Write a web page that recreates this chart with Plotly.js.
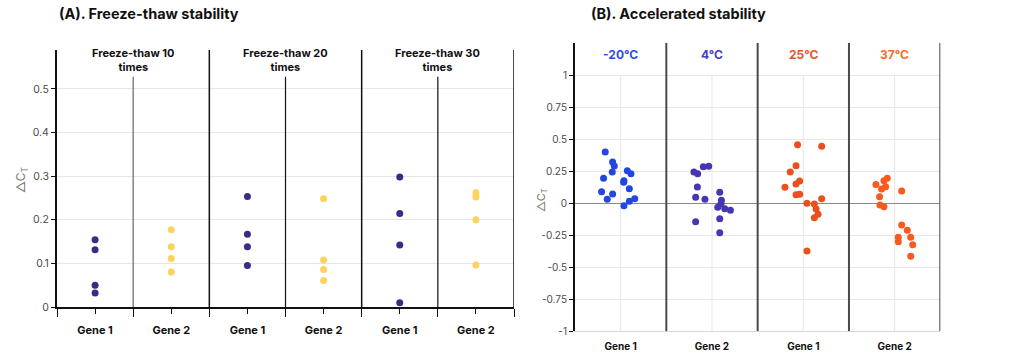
<!DOCTYPE html>
<html><head><meta charset="utf-8">
<script src="https://cdn.plot.ly/plotly-3.0.1.min.js"></script>
<style>html,body{margin:0;padding:0;background:#fff}#chart{width:1024px;height:361px}</style>
</head><body><div id="chart"></div>
<script>
// ---------- Panel A: Freeze-thaw stability ----------
const aGroups = ["Freeze-thaw 10<br>times", "Freeze-thaw 20<br>times", "Freeze-thaw 30<br>times"];
const aTickText = ["Gene 1", "Gene 2", "Gene 1", "Gene 2", "Gene 1", "Gene 2"];
const aGene1_ft10 = [0.154, 0.131, 0.050, 0.032];
const aGene2_ft10 = [0.177, 0.138, 0.111, 0.080];
const aGene1_ft20 = [0.253, 0.167, 0.138, 0.095];
const aGene2_ft20 = [0.248, 0.108, 0.086, 0.061];
const aGene1_ft30 = [0.298, 0.214, 0.142, 0.010];
const aGene2_ft30 = [0.262, 0.252, 0.200, 0.096];
const aYTicks = [0, 0.1, 0.2, 0.3, 0.4, 0.5];

// ---------- Panel B: Accelerated stability ----------
const bGroups = ["-20°C", "4°C", "25°C", "37°C"];
const bTickText = ["Gene 1", "Gene 2", "Gene 1", "Gene 2"];
const bM20 = [0.400, 0.323, 0.291, 0.245, 0.195, 0.091, 0.031, 0.073, 0.177, 0.164, 0.255, 0.231, 0.114, 0.016, 0.036, -0.019];
const bM20Jit = [-0.169, -0.088, -0.070, -0.092, -0.187, -0.209, -0.147, -0.088, 0.036, 0.033, 0.073, 0.113, 0.095, 0.095, 0.154, 0.036];
const b4 = [0.245, 0.231, 0.286, 0.289, 0.127, 0.047, 0.031, -0.144, 0.086, 0.023, -0.003, -0.031, -0.042, -0.055, -0.120, -0.230];
const b4Jit = [-0.198, -0.157, -0.095, -0.036, -0.160, -0.179, -0.077, -0.179, 0.085, 0.103, 0.099, 0.063, 0.140, 0.202, 0.085, 0.085];
const b25 = [0.458, 0.445, 0.294, 0.245, 0.174, 0.151, 0.125, 0.067, 0.070, 0.000, -0.005, 0.036, -0.045, -0.086, -0.112, -0.373];
const b25Jit = [-0.063, 0.201, -0.080, -0.143, -0.040, -0.080, -0.201, -0.080, -0.040, 0.040, 0.121, 0.201, 0.140, 0.161, 0.121, 0.040];
const b37 = [0.195, 0.177, 0.148, 0.130, 0.112, 0.096, 0.052, -0.013, -0.026, -0.170, -0.211, -0.266, -0.300, -0.266, -0.323, -0.414];
const b37Jit = [-0.081, -0.117, -0.205, -0.099, -0.143, 0.077, -0.165, -0.161, -0.117, 0.077, 0.139, 0.040, 0.040, 0.176, 0.198, 0.176];
const bYTicks = [-1, -0.75, -0.5, -0.25, 0, 0.25, 0.5, 0.75, 1];
const bYText = ["-1", "-0.75", "-0.5", "-0.25", "0", "0.25", "0.5", "0.75", "1"];

const cGene1 = "#3e2a86", cGene2 = "#fcd35c";
const bColors = ["#2147e0", "#4537b4", "#ea4f1c", "#fb5a1e"];
const bTitleColors = ["#2e4fdc", "#4a3dc2", "#ea552a", "#fa6b2c"];
const FONT = "Inter, 'Noto Sans', sans-serif";

const W = 1024, H = 361;
const px = v => v / W, py = v => (H - v) / H;

const traces = [];
const aSets = [aGene1_ft10, aGene2_ft10, aGene1_ft20, aGene2_ft20, aGene1_ft30, aGene2_ft30];
aSets.forEach((vals, i) => {
  traces.push({
    type: "scatter", mode: "markers", xaxis: "x", yaxis: "y",
    x: vals.map(() => i), y: vals,
    marker: {size: 7, color: i % 2 === 0 ? cGene1 : cGene2},
    hoverinfo: "y", showlegend: false
  });
});
const bSets = [[bM20, bM20Jit], [b4, b4Jit], [b25, b25Jit], [b37, b37Jit]];
bSets.forEach(([vals, jit], i) => {
  traces.push({
    type: "scatter", mode: "markers", xaxis: "x2", yaxis: "y2",
    x: jit.map(d => i + 1 + d), y: vals,
    marker: {size: 7, color: bColors[i]},
    hoverinfo: "y", showlegend: false
  });
});

const aTop = 0.589, aThinTop = 0.5275;
const bTop = 1.255;
const shapes = [];
// Panel A separators
[-0.5, 1.5, 3.5, 5.5].forEach((x, k) => {
  if (k === 0) return;
  shapes.push({type: "line", xref: "x", yref: "y", x0: x, x1: x, y0: 0, y1: aTop,
               line: {color: "#111", width: 1.5}});
});
[0.5, 2.5, 4.5].forEach((x, k) => {
  shapes.push({type: "line", xref: "x", yref: "y", x0: x, x1: x, y0: 0, y1: aThinTop,
               line: {color: k === 0 ? "#666" : "#111", width: 1.2}});
});
// Panel B vertical gridlines
[1, 2, 3, 4].forEach(x => {
  shapes.push({type: "line", xref: "x2", yref: "y2", x0: x, x1: x, y0: -1, y1: 1, layer: "below",
               line: {color: "#e6e6e6", width: 1}});
});
// Panel B separators
[1.5, 2.5, 3.5, 4.5].forEach(x => {
  shapes.push({type: "line", xref: "x2", yref: "y2", x0: x, x1: x, y0: -1, y1: bTop,
               line: {color: "#4a4a4a", width: 2}});
});

const annotations = [
  {text: "<b>(A). Freeze-thaw stability</b>", xref: "paper", yref: "paper", x: px(57), y: py(14),
   xanchor: "left", yanchor: "middle", showarrow: false, font: {family: FONT, size: 14.5, color: "#111"}},
  {text: "<b>(B). Accelerated stability</b>", xref: "paper", yref: "paper", x: px(589), y: py(14),
   xanchor: "left", yanchor: "middle", showarrow: false, font: {family: FONT, size: 14.5, color: "#111"}},
  {text: "△C<sub>T</sub>", xref: "paper", yref: "paper", x: px(21), y: py(180), textangle: -90,
   xanchor: "center", yanchor: "middle", showarrow: false, font: {family: FONT, size: 12, color: "#777"}},
  {text: "△C<sub>T</sub>", xref: "paper", yref: "paper", x: px(541), y: py(200), textangle: -90,
   xanchor: "center", yanchor: "middle", showarrow: false, font: {family: FONT, size: 11, color: "#777"}}
];
aGroups.forEach((g, i) => {
  annotations.push({text: "<b>" + g + "</b>", xref: "x", yref: "paper", x: 2 * i + 0.5, y: py(60),
    xanchor: "center", yanchor: "middle", showarrow: false,
    font: {family: FONT, size: 11, color: "#111"}});
});
bGroups.forEach((g, i) => {
  annotations.push({text: "<b>" + g + "</b>", xref: "x2", yref: "paper", x: i + 1, y: py(55),
    xanchor: "center", yanchor: "middle", showarrow: false,
    font: {family: FONT, size: 12, color: bTitleColors[i]}});
});

const layout = {
  width: W, height: H, margin: {l: 0, r: 0, t: 0, b: 0},
  paper_bgcolor: "#fff", plot_bgcolor: "#fff",
  font: {family: FONT, color: "#444"},
  showlegend: false,
  xaxis: {domain: [px(57), px(514)], anchor: "y", range: [-0.5, 5.5],
    tickvals: [0, 1, 2, 3, 4, 5], ticktext: aTickText,
    tickfont: {family: FONT, size: 11, color: "#111", weight: "bold"},
    showgrid: false, zeroline: false, showline: true, linecolor: "#111", linewidth: 1.5,
    ticks: "outside", ticklen: 5, tickcolor: "#111", tickwidth: 1, ticklabelstandoff: 7,
    minor: {tick0: -0.5, dtick: 1, ticks: "outside", ticklen: 8, tickcolor: "#111", showgrid: false},
    fixedrange: true},
  yaxis: {domain: [py(307), py(50)], anchor: "x", range: [0, aTop],
    tickvals: aYTicks, tickfont: {family: FONT, size: 10.5, color: "#4a4a4a"},
    showgrid: true, gridcolor: "#e6e6e6", gridwidth: 1, zeroline: false,
    showline: true, linecolor: "#111", linewidth: 2,
    ticks: "outside", ticklen: 4, tickcolor: "#111", fixedrange: true},
  xaxis2: {domain: [px(575), px(940.3)], anchor: "y2", range: [0.5, 4.5],
    tickvals: [1, 2, 3, 4], ticktext: bTickText,
    tickfont: {family: FONT, size: 10, color: "#111", weight: "bold"},
    showgrid: false, zeroline: false, showline: true, linecolor: "#d8d8d8", linewidth: 1,
    ticks: "", ticklabelstandoff: 6, fixedrange: true},
  yaxis2: {domain: [py(331.3), py(42.7)], anchor: "x2", range: [-1, bTop],
    tickvals: bYTicks, ticktext: bYText, tickfont: {family: FONT, size: 10, color: "#4a4a4a"},
    showgrid: true, gridcolor: "#e8e8e8", gridwidth: 1,
    zeroline: true, zerolinecolor: "#8a8a8a", zerolinewidth: 1.5,
    showline: true, linecolor: "#111", linewidth: 2,
    ticks: "outside", ticklen: 4, tickcolor: "#111", fixedrange: true},
  shapes: shapes,
  annotations: annotations
};

Plotly.newPlot("chart", traces, layout, {displayModeBar: false, staticPlot: true});
</script>
</body></html>
